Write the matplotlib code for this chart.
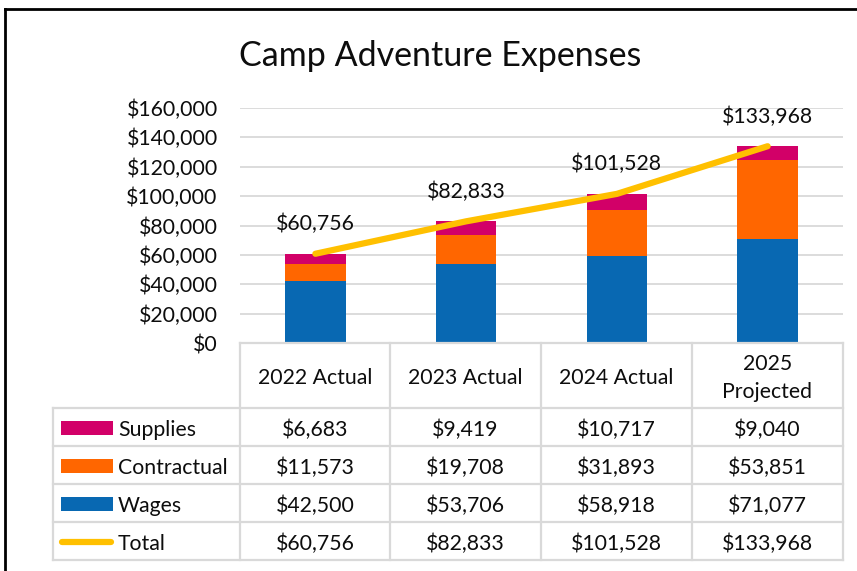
import matplotlib
matplotlib.use("Agg")
import matplotlib.pyplot as plt
from matplotlib.lines import Line2D
from matplotlib.patches import Rectangle

categories = ["2022 Actual", "2023 Actual", "2024 Actual", "2025\nProjected"]
supplies = [6683, 9419, 10717, 9040]
contractual = [11573, 19708, 31893, 53851]
wages = [42500, 53706, 58918, 71077]
total = [60756, 82833, 101528, 133968]
series_names = ["Supplies", "Contractual", "Wages", "Total"]
yticks = [0, 20000, 40000, 60000, 80000, 100000, 120000, 140000, 160000]

C_SUP = "#D20068"
C_CON = "#FF6600"
C_WAG = "#0868B2"
C_TOT = "#FFC000"
GRID = "#D9D9D9"
TXT = "#0D0D0D"
FS = 15.3

plt.rcParams["font.family"] = ["Lato", "DejaVu Sans"]

W, H = 857, 571
fig = plt.figure(figsize=(W / 100, H / 100), dpi=100)

def fx(x):
    return x / W

def fy(y):
    return 1 - y / H

# axes area
ax_l, ax_r, ax_t, ax_b = 240, 843, 108, 343
ax = fig.add_axes([fx(ax_l), fy(ax_b), (ax_r - ax_l) / W, (ax_b - ax_t) / H])
x = list(range(len(categories)))
bw = 0.40
ax.bar(x, wages, bw, color=C_WAG, zorder=2)
ax.bar(x, contractual, bw, bottom=wages, color=C_CON, zorder=2)
bot2 = [w + c for w, c in zip(wages, contractual)]
ax.bar(x, supplies, bw, bottom=bot2, color=C_SUP, zorder=2)
ax.plot(x, total, color=C_TOT, lw=4.5, solid_capstyle="round", zorder=3)
for xi, t in zip(x, total):
    ax.annotate(f"${t:,}", (xi, t), xytext=(0, 14), textcoords="offset points",
                ha="center", va="bottom", fontsize=FS, color=TXT, clip_on=False)
ax.set_xlim(-0.5, len(categories) - 0.5)
ax.set_ylim(0, 160000)
ax.set_yticks(yticks)
ax.set_yticklabels([f"${v:,}" for v in yticks], fontsize=FS, color=TXT)
ax.tick_params(axis="y", length=0, pad=16)
ax.set_xticks([])
ax.grid(axis="y", color=GRID, lw=1.3, zorder=0)
for s in ax.spines.values():
    s.set_visible(False)

# title
fig.text(fx(440), fy(56), "Camp Adventure Expenses", ha="center", va="center",
         fontsize=24.5, color=TXT)

# frame border
fig.add_artist(Line2D([fx(5), fx(857)], [fy(9), fy(9)], color="black", lw=2))
fig.add_artist(Line2D([fx(5), fx(5)], [fy(9), fy(571)], color="black", lw=2))

# data table
col_edges = [240, 390, 541, 692, 843]
row_edges = [408, 446, 484, 522, 560]
tab_left = 53

def hline(y, x0, x1):
    fig.add_artist(Line2D([fx(x0), fx(x1)], [fy(y), fy(y)], color=GRID, lw=1.6))

def vline(xp, y0, y1):
    fig.add_artist(Line2D([fx(xp), fx(xp)], [fy(y0), fy(y1)], color=GRID, lw=1.6))

hline(ax_b, col_edges[0], col_edges[-1])
for r in row_edges:
    hline(r, tab_left, col_edges[-1])
for c in col_edges:
    vline(c, ax_b, row_edges[-1])
vline(tab_left, row_edges[0], row_edges[-1])

# header
for i, cat in enumerate(categories):
    cx = (col_edges[i] + col_edges[i + 1]) / 2
    fig.text(fx(cx), fy((ax_b + row_edges[0]) / 2 + 2), cat, ha="center", va="center",
             fontsize=FS, color=TXT, linespacing=1.5)

rows = [supplies, contractual, wages, total]
colors = [C_SUP, C_CON, C_WAG, C_TOT]
for r in range(4):
    cy = (row_edges[r] + (row_edges[r + 1] if r < 3 else 560)) / 2
    if r < 3:
        fig.add_artist(Rectangle((fx(61), fy(cy + 8)), 52 / W, 14 / H,
                                 transform=fig.transFigure, color=colors[r], lw=0))
    else:
        fig.add_artist(Line2D([fx(62), fx(111)], [fy(cy + 1), fy(cy + 1)], color=C_TOT,
                              lw=4.5, solid_capstyle="round"))
    fig.text(fx(118), fy(cy + 3), series_names[r], ha="left", va="center",
             fontsize=FS, color=TXT)
    for i, v in enumerate(rows[r]):
        cx = (col_edges[i] + col_edges[i + 1]) / 2
        fig.text(fx(cx), fy(cy + 3), f"${v:,}", ha="center", va="center",
                 fontsize=FS, color=TXT)

fig.savefig("out.png", dpi=100)
